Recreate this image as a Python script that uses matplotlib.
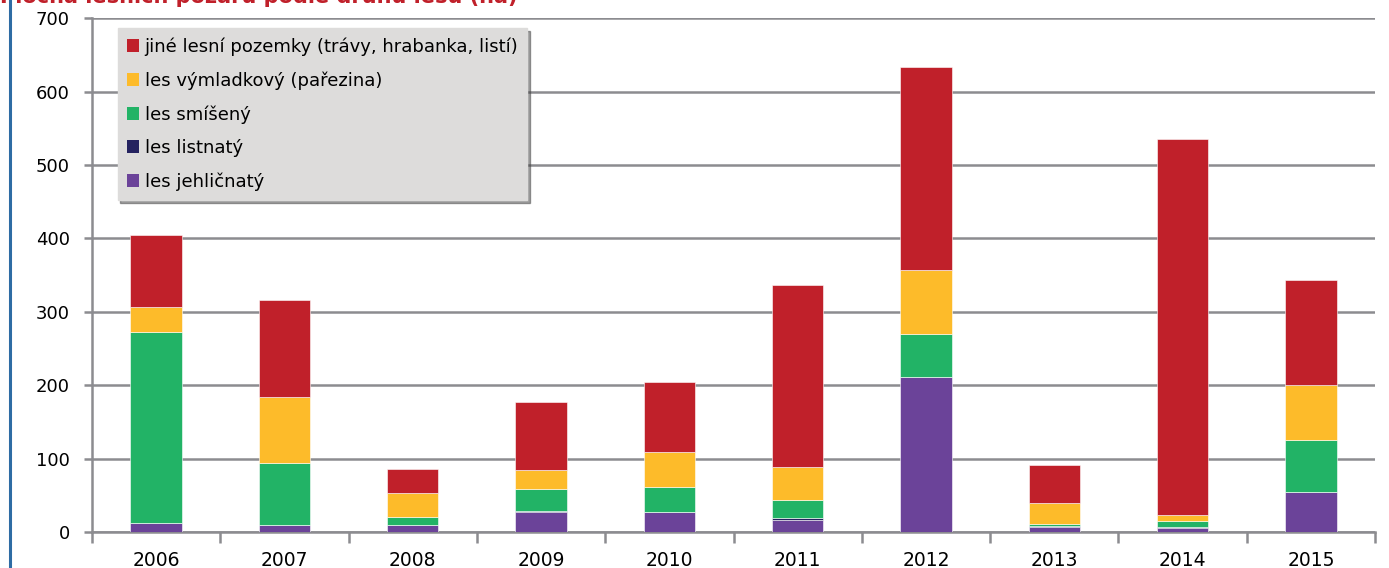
import numpy as np
import matplotlib.pyplot as plt
from matplotlib.patches import Patch

# ── Data ──────────────────────────────────────────────────────────────────────
YEARS = ["2006", "2007", "2008", "2009", "2010",
         "2011", "2012", "2013", "2014", "2015"]

jehlicnaty = [12, 10, 10, 27, 27, 17, 211, 7, 6, 54]
listnaty   = [0, 0, 0, 1, 0, 2, 0, 1, 1, 0]
smiseny    = [260, 84, 10, 30, 34, 24, 59, 3, 8, 71]
vymladkovy = [34, 90, 33, 26, 48, 45, 87, 29, 8, 75]
jine       = [99, 132, 33, 93, 95, 248, 276, 51, 512, 143]

SERIES = [
    ("les jehličnatý", jehlicnaty, "#6b4399"),
    ("les listnatý", listnaty, "#24225f"),
    ("les smíšený", smiseny, "#22b366"),
    ("les výmladkový (pařezina)", vymladkovy, "#fdbb2a"),
    ("jiné lesní pozemky (trávy, hrabanka, listí)", jine, "#c0202a"),
]

TITLE = "Plocha lesních požárů podle druhu lesu (ha)"

# ── Plot ──────────────────────────────────────────────────────────────────────
plt.rcParams["font.family"] = ["DejaVu Sans"]

fig = plt.figure(figsize=(13.89, 5.68), dpi=100)
ax = fig.add_axes([0.0662, 0.0634, 0.9238, 0.9046])

x = np.arange(len(YEARS))
bottom = np.zeros(len(YEARS))
for label, vals, color in SERIES:
    vals = np.array(vals, dtype=float)
    ax.bar(x, vals, width=0.4, bottom=bottom, color=color,
           edgecolor="white", linewidth=0.4, zorder=3)
    bottom += vals

ax.set_xlim(-0.5, len(YEARS) - 0.5)
ax.set_ylim(0, 700)
ax.set_yticks(range(0, 701, 100))
ax.yaxis.grid(True, color="#8c8c90", linewidth=1.8, zorder=0)
ax.tick_params(axis="y", labelsize=13, length=6, width=1.8,
               color="#8c8c90", pad=10)

ax.set_xticks(x)
ax.set_xticklabels(YEARS, fontsize=13.5)
ax.set_xticks(np.arange(-0.5, len(YEARS)), minor=True)
ax.tick_params(axis="x", which="major", length=0, pad=14)
ax.tick_params(axis="x", which="minor", length=8, width=1.8,
               color="#8c8c90")

for side in ["top", "right"]:
    ax.spines[side].set_visible(False)
for side in ["left", "bottom"]:
    ax.spines[side].set_color("#8c8c90")
    ax.spines[side].set_linewidth(1.8)

handles = [Patch(facecolor=c, label=l) for l, _, c in reversed(SERIES)]
leg = ax.legend(handles=handles, loc="upper left",
                bbox_to_anchor=(0.02, 0.98), borderaxespad=0,
                fontsize=13,
                handlelength=0.7, handleheight=0.7, handletextpad=0.3,
                labelspacing=0.85, borderpad=0.5,
                frameon=True, fancybox=False, shadow=True,
                facecolor="#dddcdb", edgecolor="#dddcdb", framealpha=1)
leg.set_zorder(5)

# titulek je oříznutý nahoře jako v originále
fig.text(0.0, 1.008, TITLE, color="#c0202a", fontsize=15,
         fontweight="bold", ha="left", va="center")

# modrá svislá linka vlevo
fig.add_artist(plt.Line2D([0.0075, 0.0075], [0, 1], color="#2e6ca4",
                          linewidth=2.2, transform=fig.transFigure))

fig.savefig("out.png", dpi=100)
